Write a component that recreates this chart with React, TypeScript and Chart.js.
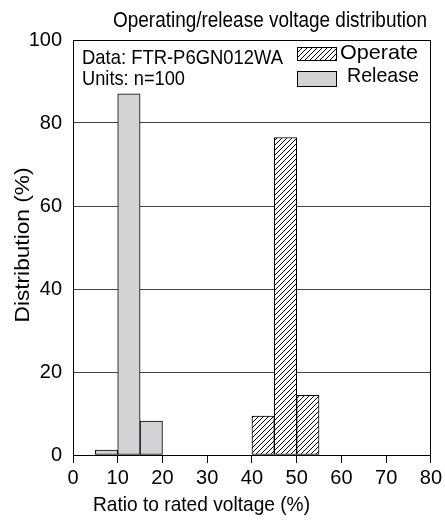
import { useEffect, useRef } from 'react';
import { Chart, registerables } from 'chart.js';

Chart.register(...registerables);

// ---- data ----
const releaseBins = [7.5, 12.5, 17.5];
const releaseValues = [1.2, 87, 8.2];
const operateBins = [42.5, 47.5, 52.5];
const operateValues = [9.4, 76.5, 14.4];
const xTicks = [0, 10, 20, 30, 40, 50, 60, 70, 80];
const yTicks = [0, 20, 40, 60, 80, 100];
const titleText = 'Operating/release voltage distribution';
const xTitle = 'Ratio to rated voltage (%)';
const yTitle = 'Distribution (%)';
const noteLines = ['Data: FTR-P6GN012WA', 'Units: n=100'];
const legendLabels = ['Operate', 'Release'];

const FONT = 'Arial, "Liberation Sans", Helvetica, sans-serif';
const GRAY = '#d3d3d5';

function makeHatch(): CanvasPattern | string {
  const p = 5;
  const c = document.createElement('canvas');
  c.width = p;
  c.height = p;
  const g = c.getContext('2d');
  if (!g) return '#fff';
  g.fillStyle = '#fff';
  g.fillRect(0, 0, p, p);
  g.strokeStyle = '#000';
  g.lineWidth = 1;
  g.beginPath();
  g.moveTo(0, p);
  g.lineTo(p, 0);
  g.moveTo(-1, 1);
  g.lineTo(1, -1);
  g.moveTo(p - 1, p + 1);
  g.lineTo(p + 1, p - 1);
  g.stroke();
  return g.createPattern(c, 'repeat') || '#fff';
}

function fitText(
  ctx: CanvasRenderingContext2D,
  text: string,
  x: number,
  y: number,
  size: number,
  width: number,
  align: CanvasTextAlign,
  rotate = 0
) {
  ctx.save();
  ctx.font = `${size}px ${FONT}`;
  const w = ctx.measureText(text).width;
  ctx.translate(x, y);
  if (rotate) ctx.rotate(rotate);
  ctx.scale(width / w, 1);
  ctx.textAlign = align;
  ctx.textBaseline = 'alphabetic';
  ctx.fillStyle = '#000';
  ctx.fillText(text, 0, 0);
  ctx.restore();
}

export default function App() {
  const ref = useRef<HTMLCanvasElement | null>(null);

  useEffect(() => {
    document.body.style.margin = '0';
    const canvas = ref.current;
    if (!canvas) return;
    const hatch = makeHatch();

    const decor = {
      id: 'decor',
      afterDraw(chart: any) {
        const ctx: CanvasRenderingContext2D = chart.ctx;
        const a = chart.chartArea;
        ctx.save();
        // plot frame
        ctx.strokeStyle = '#000';
        ctx.lineWidth = 1;
        ctx.strokeRect(Math.round(a.left) + 0.5, Math.round(a.top) + 0.5,
          Math.round(a.right - a.left) - 1, Math.round(a.bottom - a.top));
        // title
        fitText(ctx, titleText, 427, 27, 22, 314, 'right');
        // notes
        fitText(ctx, noteLines[0], 82, 64, 21, 201, 'left');
        fitText(ctx, noteLines[1], 82, 85, 21, 103, 'left');
        // legend
        ctx.fillStyle = hatch as any;
        ctx.fillRect(297, 47, 39, 13);
        ctx.strokeStyle = '#000';
        ctx.strokeRect(297.5, 47.5, 39, 13);
        fitText(ctx, legendLabels[0], 340, 59, 21, 78, 'left');
        ctx.fillStyle = GRAY;
        ctx.fillRect(297, 71, 39, 15);
        ctx.strokeRect(297.5, 71.5, 39, 15);
        fitText(ctx, legendLabels[1], 347, 82, 21, 72, 'left');
        // axis titles
        fitText(ctx, xTitle, 93, 511, 21, 217, 'left');
        fitText(ctx, yTitle, 29, 245, 21, 155, 'center', -Math.PI / 2);
        ctx.restore();
      },
    };

    const chart = new Chart(canvas, {
      type: 'bar',
      data: {
        datasets: [
          {
            label: legendLabels[1],
            data: releaseBins.map((x, i) => ({ x, y: releaseValues[i] })),
            backgroundColor: GRAY,
            borderColor: '#000',
            borderWidth: 1,
            borderSkipped: false,
          },
          {
            label: legendLabels[0],
            data: operateBins.map((x, i) => ({ x, y: operateValues[i] })),
            backgroundColor: hatch as any,
            borderColor: '#000',
            borderWidth: 1,
            borderSkipped: false,
          },
        ],
      },
      options: {
        animation: false,
        responsive: true,
        maintainAspectRatio: false,
        datasets: { bar: { grouped: false, barPercentage: 1, categoryPercentage: 1 } },
        layout: { padding: { top: 40, right: 14, left: 0, bottom: 0 } },
        plugins: { legend: { display: false }, title: { display: false }, tooltip: { enabled: false } },
        scales: {
          x: {
            type: 'linear',
            min: 0,
            max: 80,
            offset: false,
            afterBuildTicks: (s: any) => { s.ticks = xTicks.map((v) => ({ value: v })); },
            afterFit: (s: any) => { s.height = 66; },
            ticks: { color: '#000', font: { family: FONT, size: 20 }, padding: 3, maxRotation: 0, autoSkip: false },
            grid: { display: true, drawOnChartArea: false, drawTicks: true, tickLength: 8, color: '#000', offset: false },
            border: { display: true, color: '#000', width: 1 },
          },
          y: {
            min: 0,
            max: 100,
            afterBuildTicks: (s: any) => { s.ticks = yTicks.map((v) => ({ value: v })); },
            afterFit: (s: any) => { s.width = 73; },
            ticks: { color: '#000', font: { family: FONT, size: 20 }, padding: 11 },
            grid: { display: true, drawTicks: false, color: '#444', lineWidth: 1 },
            border: { display: true, color: '#000', width: 1 },
          },
        },
      },
      plugins: [decor],
    } as any);

    return () => chart.destroy();
  }, []);

  return (
    <div style={{ width: 445, height: 521, position: 'relative' }}>
      <canvas ref={ref} />
    </div>
  );
}
